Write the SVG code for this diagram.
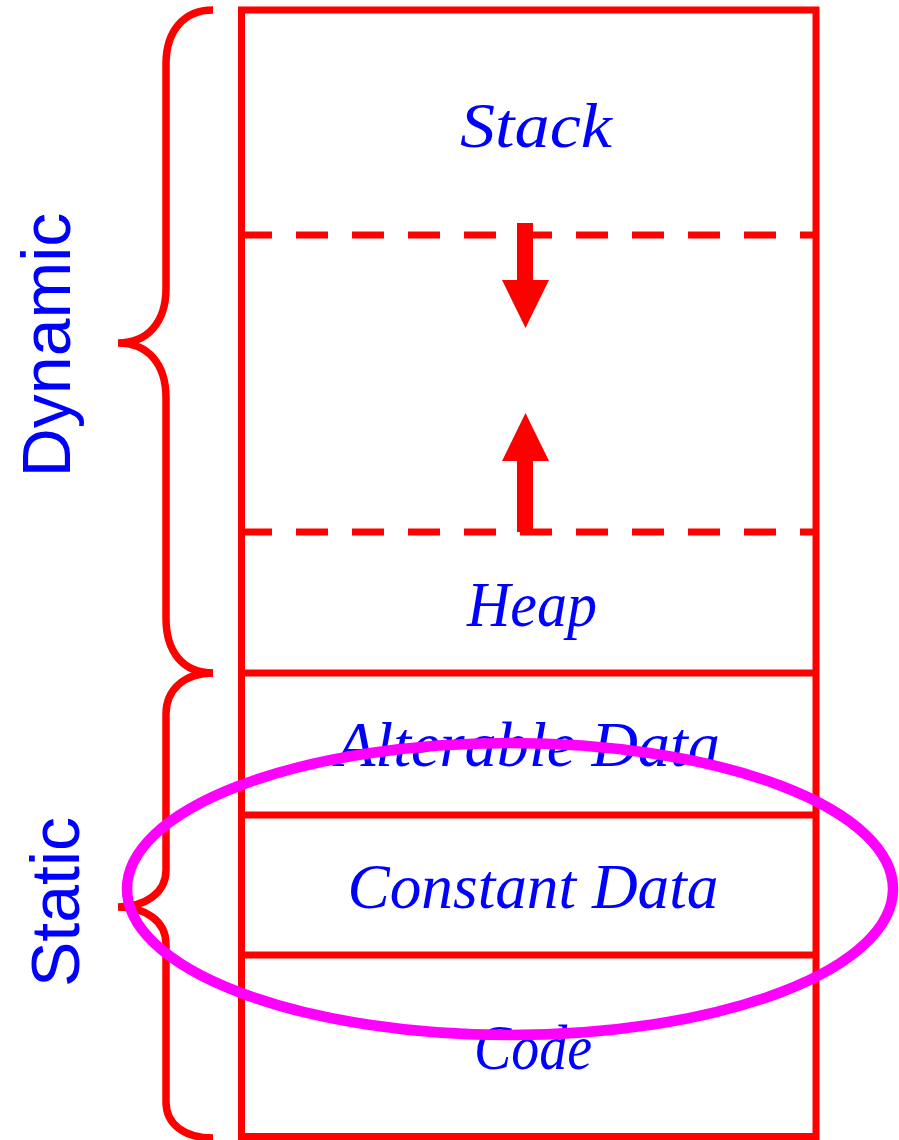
<svg xmlns="http://www.w3.org/2000/svg" width="899" height="1140" viewBox="0 0 899 1140">
  <style>
    .wall { fill: none; stroke: #ff0000; stroke-width: 7; }
    .dash { fill: none; stroke: #ff0000; stroke-width: 7; stroke-dasharray: 32 24; }
    .brace { fill: none; stroke: #ff0000; stroke-width: 7.5; stroke-linejoin: miter; }
    .seg { font-family: "Liberation Serif", "DejaVu Serif", serif; font-style: italic; font-size: 64px; fill: #0000ff; text-anchor: middle; }
    .side { font-family: "Liberation Sans", Arial, sans-serif; font-size: 68px; fill: #0000ff; text-anchor: middle; }
    .arrow { fill: #ff0000; stroke: none; }
    .ring { fill: none; stroke: #ff00ff; stroke-width: 10.5; }
  </style>

  <rect width="899" height="1140" fill="#ffffff"/>

  <!-- memory segments, top to bottom -->
  <g id="stack">
    <text class="seg" x="536" y="147" textLength="152" lengthAdjust="spacingAndGlyphs">Stack</text>
  </g>
  <g id="free-space">
    <line class="dash" x1="240" y1="235" x2="816" y2="235"/>
    <line class="dash" x1="240" y1="532" x2="816" y2="532"/>
  </g>
  <g id="heap">
    <text class="seg" x="532" y="626" textLength="130" lengthAdjust="spacingAndGlyphs">Heap</text>
  </g>
  <g id="alterable-data">
    <line class="wall" x1="241" y1="673" x2="816" y2="673"/>
    <text class="seg" x="528" y="766" textLength="384" lengthAdjust="spacingAndGlyphs">Alterable Data</text>
  </g>
  <g id="constant-data">
    <line class="wall" x1="241" y1="815" x2="816" y2="815"/>
    <text class="seg" x="533" y="908" textLength="371" lengthAdjust="spacingAndGlyphs">Constant Data</text>
  </g>
  <g id="code">
    <line class="wall" x1="241" y1="955" x2="816" y2="955"/>
    <text class="seg" x="533" y="1069" textLength="118" lengthAdjust="spacingAndGlyphs">Code</text>
  </g>

  <!-- outer frame of the address space -->
  <g id="frame">
    <rect class="wall" x="241.5" y="10" width="574.5" height="1126.5"/>
  </g>

  <!-- growth directions of stack and heap -->
  <g id="connectors">
    <rect class="arrow" x="517" y="223" width="16" height="58"/>
    <polygon class="arrow" points="502,280 549,280 525.5,328"/>
    <rect class="arrow" x="517" y="460" width="16" height="72"/>
    <polygon class="arrow" points="502,461 549,461 525.5,413"/>
  </g>

  <!-- region braces and labels -->
  <g id="dynamic">
    <path class="brace" d="M213,10 C183,10 166,32 166,64 L166,288 C166,322 148,343 118,343 C148,343 166,364 166,398 L166,618 C166,652 183,673 213,673"/>
    <text class="side" transform="translate(70,345) rotate(-90)">Dynamic</text>
  </g>
  <g id="static">
    <path class="brace" d="M213,673 C184,673 166,690 166,714 L166,870 C166,893 145,907 118,907 C145,907 166,921 166,944 L166,1102 C166,1124 184,1138 213,1138"/>
    <text class="side" transform="translate(79,902) rotate(-90)">Static</text>
  </g>

  <!-- highlight around the constant data segment -->
  <g id="highlight">
    <ellipse class="ring" cx="510" cy="889" rx="383" ry="146"/>
  </g>
</svg>
